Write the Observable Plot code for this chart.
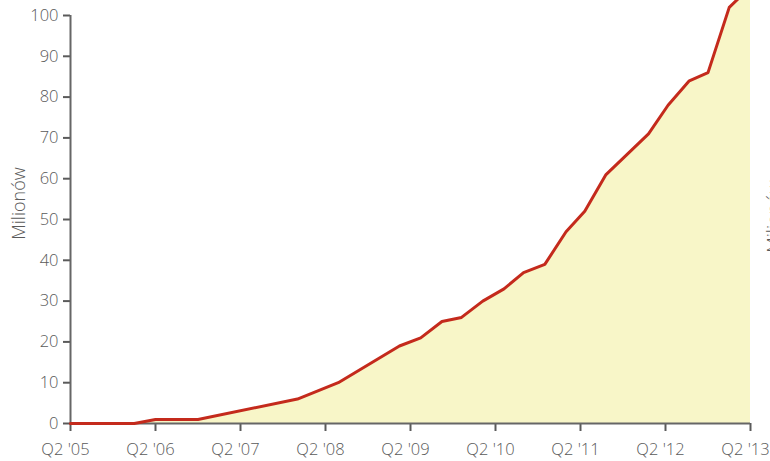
<!DOCTYPE html>
<html>
<head>
<meta charset="utf-8">
<script src="https://cdn.jsdelivr.net/npm/d3@7"></script>
<script src="https://cdn.jsdelivr.net/npm/@observablehq/plot@0.6"></script>
<style>
  html, body { margin: 0; padding: 0; background: white; overflow: hidden; }
  #chart svg { display: block; }
  #chart g[aria-label$="tick"] path, #chart .tick line { stroke-width: 2px; }
</style>
</head>
<body>
<div id="chart"></div>
<script>
// Time positions (decimal years; Q2 '05 = 2005.25) and cumulative values in millions
const times  = [2005.25, 2006.0, 2006.25, 2006.75, 2007.92, 2008.4, 2009.12, 2009.37, 2009.62, 2009.85,
                2010.1, 2010.35, 2010.58, 2010.83, 2011.08, 2011.3, 2011.55, 2012.05, 2012.28, 2012.53,
                2012.75, 2013.0, 2013.25];
const values = [0, 0, 1, 1, 6, 10, 19, 21, 25, 26,
                30, 33, 37, 39, 47, 52, 61, 71, 78, 84,
                86, 102, 107];
const xTicks = [2005.25, 2006.25, 2007.25, 2008.25, 2009.25, 2010.25, 2011.25, 2012.25, 2013.25];
const xTickLabels = ["Q2 '05", "Q2 '06", "Q2 '07", "Q2 '08", "Q2 '09", "Q2 '10", "Q2 '11", "Q2 '12", "Q2 '13"];
const yTicks = [0, 10, 20, 30, 40, 50, 60, 70, 80, 90, 100];
const yLabel = "Milionów";

const data = times.map((t, i) => ({t, v: values[i]}));
const font = "'Open Sans', Lato, sans-serif";
const textColor = "#5a5a5a";

const chart = Plot.plot({
  width: 770,
  height: 461,
  marginLeft: 70,
  marginRight: 20,
  marginTop: 15,
  marginBottom: 38,
  style: {fontFamily: font, fontSize: "16.5px", fontWeight: 300, color: textColor, background: "white", overflow: "hidden"},
  x: {domain: [2005.25, 2013.25], ticks: xTicks, tickFormat: () => "", tickSize: 8, label: null},
  y: {domain: [0, 100], ticks: yTicks, tickSize: 7, tickPadding: 5, label: null},
  marks: [
    Plot.areaY(data, {x: "t", y: "v", fill: "#f8f6c8"}),
    Plot.ruleY([0], {stroke: "#666", strokeWidth: 2}),
    Plot.ruleX([2005.25], {y1: 0, y2: 100, stroke: "#666", strokeWidth: 2}),
    Plot.line(data, {x: "t", y: "v", stroke: "#c42a1c", strokeWidth: 3}),
    Plot.text(xTicks, {x: d => d, text: (d, i) => xTickLabels[i], frameAnchor: "bottom", lineAnchor: "top", dy: 20, dx: -5, fontSize: 16.5, fill: textColor}),
    Plot.text([yLabel], {frameAnchor: "left", textAnchor: "middle", dx: -51, dy: -16, rotate: -90, fontSize: 18, fill: textColor}),
    Plot.text([yLabel], {frameAnchor: "right", textAnchor: "middle", dx: 24, dy: -3, rotate: -90, fontSize: 18, fill: textColor})
  ]
});
document.getElementById("chart").append(chart);
</script>
</body>
</html>
